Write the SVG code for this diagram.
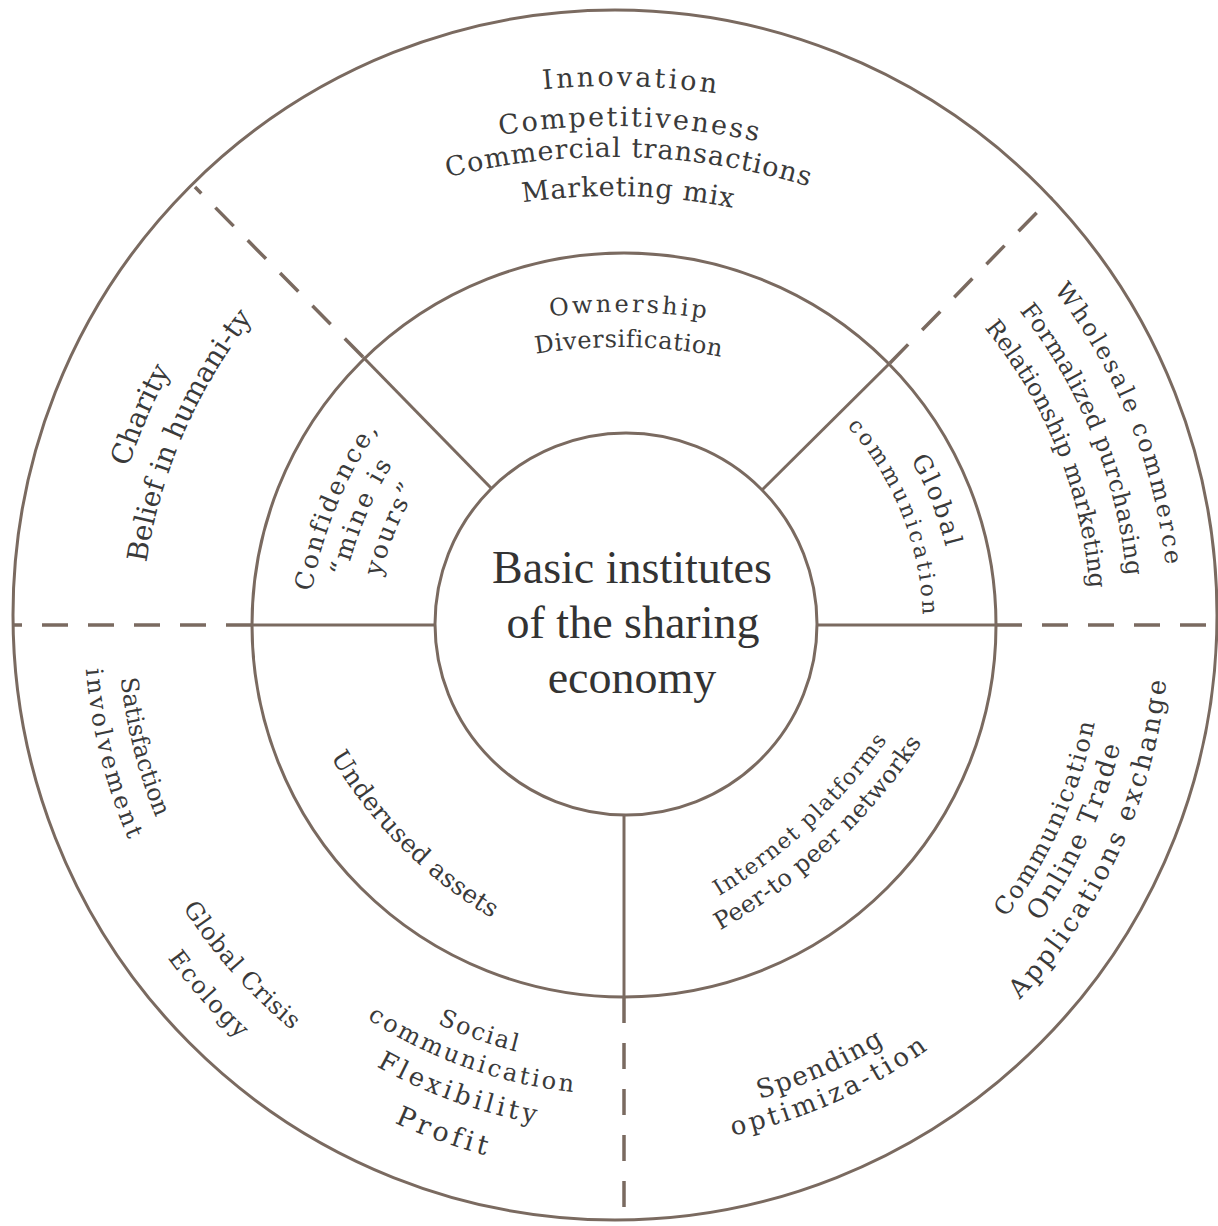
<svg xmlns="http://www.w3.org/2000/svg" width="1218" height="1226" viewBox="0 0 1218 1226">
<style>
.ring{fill:none;stroke:#7a6a60;stroke-width:3}
.solid{stroke:#7a6a60;stroke-width:3;fill:none}
.dash{stroke:#7a6a60;stroke-width:3.5;stroke-dasharray:26 20;fill:none}
.lbl{font-family:"DejaVu Serif",serif;fill:#3a3a3a;text-anchor:middle}
.ctr{font-family:"Liberation Serif",serif;font-size:46px;fill:#333;text-anchor:middle}
</style>
<defs>
<path id="t739" d="M-475 -566.1A739 739 0 0 1 475 -566.1"/>
<path id="t699" d="M-449.3 -535.4A699 699 0 0 1 449.3 -535.4"/>
<path id="t668" d="M-429.4 -511.7A668 668 0 0 1 429.4 -511.7"/>
<path id="t629" d="M-404.3 -481.8A629 629 0 0 1 404.3 -481.8"/>
<path id="t563" d="M-361.9 -431.3A563 563 0 0 1 361.9 -431.3"/>
<path id="t528" d="M-339.4 -404.4A528 528 0 0 1 339.4 -404.4"/>
<path id="t570" d="M-366.4 -436.6A570 570 0 0 1 366.4 -436.6"/>
<path id="t530" d="M-340.7 -406A530 530 0 0 1 340.7 -406"/>
<path id="t411" d="M-264.2 -314.8A411 411 0 0 1 264.2 -314.8"/>
<path id="t380" d="M-244.3 -291.1A380 380 0 0 1 244.3 -291.1"/>
<path id="t347" d="M-223.1 -265.8A347 347 0 0 1 223.1 -265.8"/>
<path id="t331" d="M-212.8 -253.5A331 331 0 0 1 212.8 -253.5"/>
<path id="t299" d="M-192.2 -229A299 299 0 0 1 192.2 -229"/>
<path id="t545" d="M-350.3 -417.5A545 545 0 0 1 350.3 -417.5"/>
<path id="t505" d="M-324.6 -386.8A505 505 0 0 1 324.6 -386.8"/>
<path id="t467" d="M-300.2 -357.7A467 467 0 0 1 300.2 -357.7"/>
<path id="b506" d="M-325.3 387.6A506 506 0 0 0 325.3 387.6"/>
<path id="b540" d="M-347.1 413.6A540 540 0 0 0 347.1 413.6"/>
<path id="b524" d="M-336.8 401.4A524 524 0 0 0 336.8 401.4"/>
<path id="b565" d="M-363.2 432.8A565 565 0 0 0 363.2 432.8"/>
<path id="b465" d="M-298.9 356.2A465 465 0 0 0 298.9 356.2"/>
<path id="b575" d="M-369.6 440.5A575 575 0 0 0 369.6 440.5"/>
<path id="b605" d="M-388.9 463.4A605 605 0 0 0 388.9 463.4"/>
<path id="b440" d="M-282.8 337A440 440 0 0 0 282.8 337"/>
<path id="b470" d="M-302.1 360A470 470 0 0 0 302.1 360"/>
<path id="b548" d="M-352.3 419.8A548 548 0 0 0 352.3 419.8"/>
<path id="b493" d="M-316.9 377.6A493 493 0 0 0 316.9 377.6"/>
<path id="b522" d="M-335.5 399.9A522 522 0 0 0 335.5 399.9"/>
<path id="b481" d="M-309.2 368.4A481 481 0 0 0 309.2 368.4"/>
<path id="b511" d="M-328.5 391.4A511 511 0 0 0 328.5 391.4"/>
<path id="b545" d="M-350.3 417.5A545 545 0 0 0 350.3 417.5"/>
</defs>
<rect width="1218" height="1226" fill="#fff"/>

<g id="rings">
<ellipse class="ring" cx="615" cy="615" rx="602" ry="605"/>
<circle class="ring" cx="624" cy="625" r="372"/>
</g>

<g id="connectors">
<line class="solid" x1="252" y1="625" x2="435" y2="625"/>
<line class="solid" x1="817" y1="625" x2="996" y2="625"/>
<line class="solid" x1="624" y1="815" x2="624" y2="997"/>
<line class="solid" x1="491" y1="488" x2="363" y2="357"/>
<line class="solid" x1="762" y1="490" x2="890" y2="363"/>
<line class="dash" x1="252" y1="625" x2="13" y2="625"/>
<line class="dash" x1="996" y1="625" x2="1218" y2="625"/>
<line class="dash" x1="624" y1="997" x2="624" y2="1220"/>
<line class="dash" x1="363" y1="357" x2="195" y2="187"/>
<line class="dash" x1="890" y1="363" x2="1052" y2="197"/>
</g>

<g id="center">
<circle class="ring" cx="626" cy="624" r="191"/>
<text class="ctr" x="632" y="583">Basic institutes</text>
<text class="ctr" x="633" y="638">of the sharing</text>
<text class="ctr" x="632" y="693">economy</text>
</g>

<g id="top-outer" transform="translate(617 625) rotate(1.5) translate(0 200)">
<text class="lbl" font-size="27" letter-spacing="3"><textPath href="#t739" startOffset="50%">Innovation</textPath></text>
<text class="lbl" font-size="27" letter-spacing="2.3"><textPath href="#t699" startOffset="50%">Competitiveness</textPath></text>
<text class="lbl" font-size="27" letter-spacing="1"><textPath href="#t668" startOffset="50%">Commercial transactions</textPath></text>
<text class="lbl" font-size="27" letter-spacing="0.8"><textPath href="#t629" startOffset="50%">Marketing mix</textPath></text>
</g>

<g id="ownership" transform="translate(624 625) rotate(1) translate(0 250)">
<text class="lbl" font-size="24" letter-spacing="3"><textPath href="#t563" startOffset="50%">Ownership</textPath></text>
<text class="lbl" font-size="24" letter-spacing="0.6"><textPath href="#t528" startOffset="50%">Diversification</textPath></text>
</g>

<g id="charity" transform="translate(624 625) rotate(-66.5) translate(0 50)">
<text class="lbl" font-size="28"><textPath href="#t570" startOffset="50%">Charity</textPath></text>
<text class="lbl" font-size="28"><textPath href="#t530" startOffset="50%">Belief in humani-ty</textPath></text>
</g>

<g id="confidence" transform="translate(624 625) rotate(-67.5) translate(0 100)">
<text class="lbl" font-size="25" letter-spacing="2.5"><textPath href="#t411" startOffset="50%">Confidence,</textPath></text>
<text class="lbl" font-size="25" letter-spacing="2.5"><textPath href="#t380" startOffset="50%">“mine is</textPath></text>
<text class="lbl" font-size="25" letter-spacing="2.5"><textPath href="#t347" startOffset="50%">yours”</textPath></text>
</g>

<g id="global-communication" transform="translate(624 625) rotate(68.4)">
<text class="lbl" font-size="25" letter-spacing="2.5"><textPath href="#t331" startOffset="50%">Global</textPath></text>
<text class="lbl" font-size="22" letter-spacing="3"><textPath href="#t299" startOffset="50%">communication</textPath></text>
</g>

<g id="wholesale" transform="translate(624 625) rotate(68)">
<text class="lbl" font-size="24" letter-spacing="2.4"><textPath href="#t545" startOffset="50%">Wholesale commerce</textPath></text>
<text class="lbl" font-size="24" letter-spacing="0.5"><textPath href="#t505" startOffset="50%">Formalized purchasing</textPath></text>
<text class="lbl" font-size="24"><textPath href="#t467" startOffset="50%">Relationship marketing</textPath></text>
</g>

<g id="satisfaction" transform="translate(624 625) rotate(75.8)">
<text class="lbl" font-size="24"><textPath href="#b506" startOffset="50%">Satisfaction</textPath></text>
<text class="lbl" font-size="24" letter-spacing="2.8"><textPath href="#b540" startOffset="50%">involvement</textPath></text>
</g>

<g id="global-crisis" transform="translate(624 625) rotate(48.3)">
<text class="lbl" font-size="24" letter-spacing="0.7"><textPath href="#b524" startOffset="50%">Global Crisis</textPath></text>
<text class="lbl" font-size="24" letter-spacing="2"><textPath href="#b565" startOffset="50%">Ecology</textPath></text>
</g>

<g id="underused" transform="translate(624 625) rotate(45) translate(0 -150)">
<text class="lbl" font-size="25" letter-spacing="0.3"><textPath href="#b465" startOffset="50%">Underused assets</textPath></text>
</g>

<g id="internet" transform="translate(624 625) rotate(-43) translate(0 -300)">
<text class="lbl" font-size="22" letter-spacing="1.5"><textPath href="#b575" startOffset="50%">Internet platforms</textPath></text>
<text class="lbl" font-size="24" letter-spacing="0.4"><textPath href="#b605" startOffset="50%">Peer-to peer networks</textPath></text>
</g>

<g id="social" transform="translate(624 625) rotate(19.5)">
<text class="lbl" font-size="24" letter-spacing="2"><textPath href="#b440" startOffset="50%">Social</textPath></text>
<text class="lbl" font-size="24" letter-spacing="2.8"><textPath href="#b470" startOffset="50%">communication</textPath></text>
<text class="lbl" font-size="26" letter-spacing="3.8"><textPath href="#b506" startOffset="50%">Flexibility</textPath></text>
<text class="lbl" font-size="27" letter-spacing="4"><textPath href="#b548" startOffset="50%">Profit</textPath></text>
</g>

<g id="spending" transform="translate(624 625) rotate(-24)">
<text class="lbl" font-size="26" letter-spacing="1.7"><textPath href="#b493" startOffset="50%">Spending</textPath></text>
<text class="lbl" font-size="26" letter-spacing="3.5"><textPath href="#b522" startOffset="50%">optimiza-tion</textPath></text>
</g>

<g id="communication" transform="translate(624 625) rotate(-65.5)">
<text class="lbl" font-size="24" letter-spacing="2"><textPath href="#b481" startOffset="50%">Communication</textPath></text>
<text class="lbl" font-size="26" letter-spacing="2"><textPath href="#b511" startOffset="50%">Online Trade</textPath></text>
<text class="lbl" font-size="26" letter-spacing="3"><textPath href="#b545" startOffset="50%">Applications exchange</textPath></text>
</g>
</svg>
